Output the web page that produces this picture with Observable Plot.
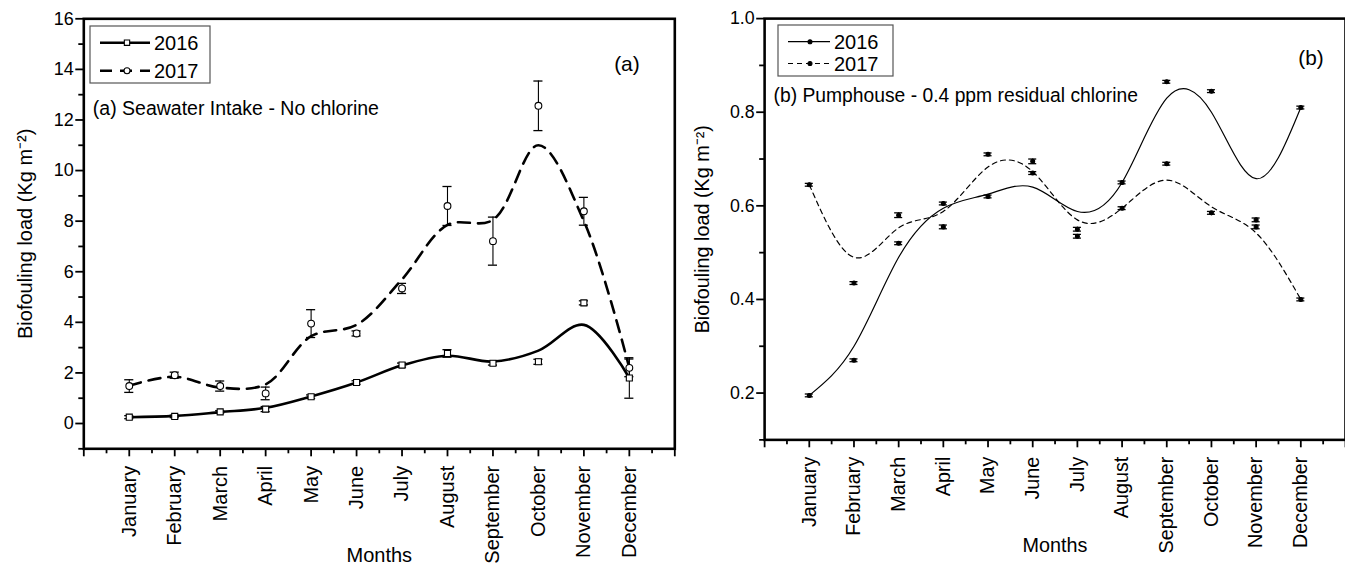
<!DOCTYPE html>
<html>
<head>
<meta charset="utf-8">
<script src="https://cdn.jsdelivr.net/npm/d3@7"></script>
<script src="https://cdn.jsdelivr.net/npm/@observablehq/plot@0.6"></script>
<style>
  html, body { margin: 0; padding: 0; background: white; overflow: hidden; width: 1345px; height: 564px; }
  .panel { position: absolute; top: 0; }
  svg text { font-family: "Liberation Sans", Arial, sans-serif; }
</style>
</head>
<body>
<div id="pa" class="panel" style="left:0px"></div>
<div id="pb" class="panel" style="left:680px"></div>
<script>
// ---------- data ----------
const months = ["January","February","March","April","May","June","July","August","September","October","November","December"];
const monthNum = [1,2,3,4,5,6,7,8,9,10,11,12];
const seriesNames = ["2016", "2017"];

// Panel (a) Seawater Intake - No chlorine
const a2016 = [0.25, 0.28, 0.46, 0.57, 1.06, 1.62, 2.31, 2.77, 2.38, 2.44, 4.77, 1.80];
const a2016Err = [0.06, 0.05, 0.05, 0.10, 0.07, 0.07, 0.08, 0.15, 0.07, 0.10, 0.08, 0.80];
const a2017 = [1.48, 1.91, 1.48, 1.19, 3.95, 3.56, 5.34, 8.60, 7.21, 12.56, 8.39, 2.20];
const a2017Err = [0.25, 0.12, 0.20, 0.25, 0.55, 0.10, 0.20, 0.77, 0.95, 0.98, 0.55, 0.35];
const a2016Fit = [0.25, 0.30, 0.45, 0.62, 1.07, 1.62, 2.30, 2.68, 2.45, 2.88, 3.90, 1.80];
const a2017Fit = [1.50, 1.85, 1.42, 1.55, 3.45, 3.90, 5.70, 7.85, 8.05, 11.00, 8.00, 2.20];

// Panel (b) Pumphouse - 0.4 ppm residual chlorine
const b2016 = [0.195, 0.270, 0.520, 0.605, 0.620, 0.670, 0.550, 0.650, 0.865, 0.845, 0.570, 0.810];
const b2016Err = [0.003, 0.003, 0.003, 0.003, 0.003, 0.003, 0.004, 0.003, 0.003, 0.003, 0.004, 0.003];
const b2017 = [0.645, 0.435, 0.580, 0.555, 0.710, 0.695, 0.535, 0.595, 0.690, 0.585, 0.555, 0.400];
const b2017Err = [0.003, 0.003, 0.005, 0.004, 0.003, 0.005, 0.004, 0.003, 0.003, 0.003, 0.004, 0.003];
const b2016Fit = [0.195, 0.300, 0.490, 0.595, 0.625, 0.640, 0.588, 0.650, 0.830, 0.800, 0.658, 0.810];
const b2017Fit = [0.645, 0.490, 0.553, 0.588, 0.683, 0.673, 0.570, 0.595, 0.655, 0.598, 0.542, 0.400];

const aYMajor = [0, 2, 4, 6, 8, 10, 12, 14, 16];
const aYMinor = [-1, 1, 3, 5, 7, 9, 11, 13, 15];
const bYMajor = [0.2, 0.4, 0.6, 0.8, 1.0];
const bYMinor = [0.1, 0.3, 0.5, 0.7, 0.9];
const xMajor = [0,1,2,3,4,5,6,7,8,9,10,11,12,13];
const xMinor = [0.5,1.5,2.5,3.5,4.5,5.5,6.5,7.5,8.5,9.5,10.5,11.5,12.5];

const rows = (vals, errs) => monthNum.map((m, i) => ({m, v: vals[i], e: errs[i]}));
const fitRows = (vals) => monthNum.map((m, i) => ({m, v: vals[i]}));

const FONT = '"Liberation Sans", Arial, sans-serif';
const YLABEL = "Biofouling load (Kg m\u207B\u00B2)";

function panel({el, width, marginLeft, marginRight, marginBottom, yDomain, yMajor, yMinor, yFmt, curve,
                s16, s17, f16, f17, thick, dash, sym16, sym17, r, cap, labelOffset, tag, note, tagDx, tagDy, noteDy}) {
  const lw = thick;
  const chart = Plot.plot({
    width, height: 564,
    marginLeft, marginRight, marginTop: 18.3, marginBottom,
    style: {fontFamily: FONT, fontSize: "18px", color: "black", background: "transparent", overflow: "visible"},
    x: {domain: [0, 13]},
    y: {domain: yDomain},
    marks: [
      // minor ticks
      Plot.axisX({ticks: xMinor, tickSize: 5, tickFormat: () => "", strokeWidth: 1.8, label: null}),
      Plot.axisY({ticks: yMinor, tickSize: 5, tickFormat: () => "", strokeWidth: 1.8, label: null}),
      // major ticks
      Plot.axisX({ticks: xMajor, tickSize: 8, tickPadding: 9, strokeWidth: 1.8, tickRotate: -90,
                  tickFormat: d => months[d - 1] ?? "", label: null}),
      Plot.axisY({ticks: yMajor, tickSize: 8, tickPadding: 2, strokeWidth: 1.8,
                  tickFormat: yFmt, label: YLABEL, labelAnchor: "center",
                  labelOffset, labelArrow: "none"}),
      // fitted curves
      Plot.line(fitRows(f17), {x: "m", y: "v", curve, stroke: "black", strokeWidth: lw, strokeDasharray: dash}),
      Plot.line(fitRows(f16), {x: "m", y: "v", curve, stroke: "black", strokeWidth: lw}),
      // error bars
      ...[s16, s17].flatMap(s => [
        Plot.ruleX(s, {x: "m", y1: d => d.v - d.e, y2: d => d.v + d.e, stroke: "black", strokeWidth: 1.1}),
        Plot.ruleY(s, {y: d => d.v - d.e, x1: d => d.m - cap, x2: d => d.m + cap, stroke: "black", strokeWidth: 1.3}),
        Plot.ruleY(s, {y: d => d.v + d.e, x1: d => d.m - cap, x2: d => d.m + cap, stroke: "black", strokeWidth: 1.3})
      ]),
      // markers
      Plot.dot(s16, {x: "m", y: "v", symbol: sym16.symbol, r, fill: sym16.fill, stroke: "black", strokeWidth: 1.1}),
      Plot.dot(s17, {x: "m", y: "v", symbol: sym17.symbol, r, fill: sym17.fill, stroke: "black", strokeWidth: 1.1}),
      // annotations
      Plot.text([tag], {frameAnchor: "top-right", dx: tagDx, dy: tagDy, textAnchor: "end", lineAnchor: "middle", fontSize: 21}),
      Plot.text([note], {frameAnchor: "top-left", dx: 9, dy: noteDy, textAnchor: "start", lineAnchor: "middle", fontSize: 19.5}),
      Plot.text(["Months"], {frameAnchor: "bottom", dy: 107, lineAnchor: "middle", fontSize: 20}),
      Plot.frame({stroke: "black", strokeWidth: 2.6})
    ]
  });
  document.getElementById(el).appendChild(chart);
  // axis text sizes (month names, y tick values, y title)
  const monthSet = new Set(months);
  d3.select(chart).selectAll("text").each(function() {
    const t = this.textContent;
    if (monthSet.has(t)) this.style.fontSize = "20px";
    else if (t === YLABEL) this.style.fontSize = "20px";
    else if (/^-?\d+(\.\d+)?$/.test(t)) this.style.fontSize = "18px";
  });
  return chart;
}

panel({
  el: "pa", width: 680, marginLeft: 83.3, marginRight: 5.7, marginBottom: 115.7,
  yDomain: [-1, 16], yMajor: aYMajor, yMinor: aYMinor, yFmt: d3.format("d"), curve: "catmull-rom",
  s16: rows(a2016, a2016Err), s17: rows(a2017, a2017Err), f16: a2016Fit, f17: a2017Fit,
  thick: 2.6, dash: "12,8", sym16: {symbol: "square", fill: "white"}, sym17: {symbol: "circle", fill: "white"},
  r: 3.4, cap: 0.1, labelOffset: 66, tag: "(a)", note: "(a) Seawater Intake - No chlorine",
  tagDx: -35, tagDy: 45, noteDy: 90
});

panel({
  el: "pb", width: 672, marginLeft: 85, marginRight: 0, marginBottom: 120,
  yDomain: [0.1, 1.0], yMajor: bYMajor, yMinor: bYMinor, yFmt: d3.format(".1f"), curve: "natural",
  s16: rows(b2016, b2016Err), s17: rows(b2017, b2017Err), f16: b2016Fit, f17: b2017Fit,
  thick: 1.2, dash: "5,4", sym16: {symbol: "circle", fill: "black"}, sym17: {symbol: "circle", fill: "black"},
  r: 2, cap: 0.09, labelOffset: 70, tag: "(b)", note: "(b) Pumphouse - 0.4 ppm residual chlorine",
  tagDx: -22, tagDy: 40, noteDy: 78
});

// ---------- legends ----------
function legend(el, {x, y, w, h, rowY, x1, x2, xm, xt, lw, dash, symbol, fill, r}) {
  const svg = d3.select("#" + el).append("svg")
    .attr("width", 300).attr("height", 120)
    .style("position", "absolute").style("left", "0px").style("top", "0px").style("overflow", "visible");
  svg.append("rect").attr("x", x).attr("y", y).attr("width", w).attr("height", h)
    .attr("fill", "white").attr("stroke", "#555").attr("stroke-width", 1.2);
  seriesNames.forEach((name, i) => {
    const cy = rowY[i];
    svg.append("line").attr("x1", x1).attr("x2", x2).attr("y1", cy).attr("y2", cy)
      .attr("stroke", "black").attr("stroke-width", lw)
      .attr("stroke-dasharray", i === 1 ? dash : null);
    const sym = d3.symbol().type(symbol[i] === "square" ? d3.symbolSquare : d3.symbolCircle).size(Math.PI * r * r);
    svg.append("path").attr("d", sym()).attr("transform", `translate(${xm},${cy})`)
      .attr("fill", fill).attr("stroke", "black").attr("stroke-width", 1.1);
    svg.append("text").attr("x", xt).attr("y", cy).attr("dy", "0.35em")
      .attr("font-size", 20).attr("fill", "black").text(name);
  });
}

legend("pa", {x: 90, y: 26, w: 120, h: 57, rowY: [42.7, 70.7], x1: 100, x2: 150, xm: 127, xt: 154,
              lw: 2.6, dash: "12,8", symbol: ["square", "circle"], fill: "white", r: 3});
legend("pb", {x: 98, y: 25, w: 115, h: 51, rowY: [41.7, 63.5], x1: 108, x2: 150, xm: 130, xt: 154,
              lw: 1.2, dash: "5,4", symbol: ["circle", "circle"], fill: "black", r: 2});
</script>
</body>
</html>
